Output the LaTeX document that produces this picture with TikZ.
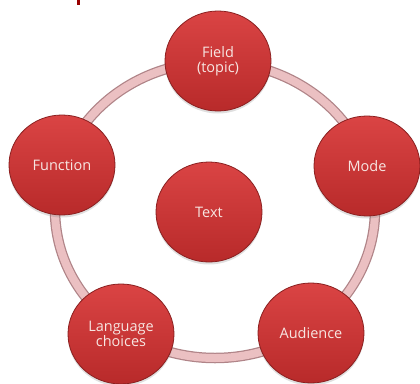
\documentclass[tikz,border=0pt]{standalone}
\usepackage{fontspec}
\setmainfont{Open Sans}
\usetikzlibrary{shapes.geometric,shadows}

\definecolor{bubtop}{HTML}{DA4444}
\definecolor{bubbot}{HTML}{B82A2A}
\definecolor{bubedge}{HTML}{8A2020}
\definecolor{ringin}{HTML}{EBC0C2}
\definecolor{ringout}{HTML}{B08488}
\definecolor{labtext}{HTML}{F7E6E2}

\begin{document}
\begin{tikzpicture}[x=1pt, y=-1pt,
  bubble/.style={ellipse, minimum width=106pt, minimum height=100pt, inner sep=0pt,
    draw=bubedge, line width=0.8pt, top color=bubtop, bottom color=bubbot,
    text=labtext, font=\fontsize{14.5}{15.5}\selectfont, align=center,
    drop shadow={opacity=0.25, shadow xshift=0pt, shadow yshift=-2.5pt}}]
\useasboundingbox (0,0) rectangle (420,383);

% Mark at top
\fill[red!60!black] (77,0) rectangle (79.5,5);

% Ring
\coordinate (hub) at (215,210);
\draw[ringout, line width=10.5pt] (hub) ellipse [x radius=160, y radius=148];
\draw[ringin, line width=8pt] (hub) ellipse [x radius=160, y radius=148];

% Bubbles
\node[bubble] (field) at (218,61) {Field\\(topic)};
\node[bubble] (mode) at (367,166) {Mode};
\node[bubble] (aud) at (311,333) {Audience};
\node[bubble] (lang) at (121,334) {Language\\choices};
\node[bubble] (func) at (62,165) {Function};
\node[bubble] (text) at (209,212) {Text};
\end{tikzpicture}
\end{document}
